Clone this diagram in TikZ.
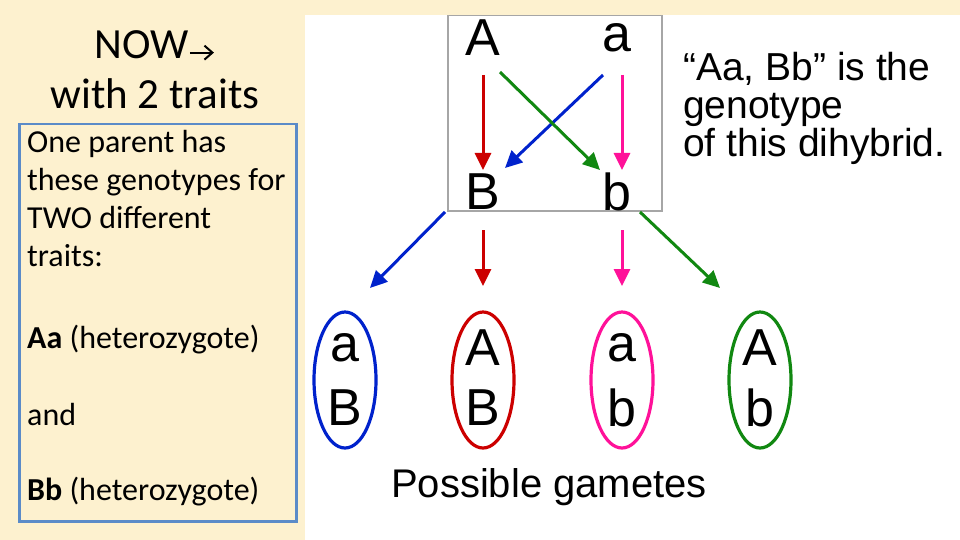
\documentclass[tikz,border=0pt]{standalone}
\usepackage{fontspec}
\setmainfont{Liberation Sans}
\newfontfamily\calfont{Carlito}
\usetikzlibrary{arrows.meta,shapes.geometric}
\definecolor{cream}{HTML}{FDF1CF}
\definecolor{myred}{HTML}{CC0000}
\definecolor{mymag}{HTML}{FF1199}
\definecolor{myblue}{HTML}{0022CC}
\definecolor{mygreen}{HTML}{118811}
\definecolor{boxblue}{HTML}{5B8BC8}
\begin{document}
\begin{tikzpicture}[x=1pt,y=-1pt,
  arr/.style={line width=3pt,-{Triangle[length=17pt,width=16pt]}},
  let/.style={font=\fontsize{52}{52}\selectfont,inner sep=0pt},
  gam/.style={draw,ellipse,line width=3.2pt,minimum width=62pt,minimum height=136pt,inner sep=0pt}]
\useasboundingbox (0,0) rectangle (960,540);
\fill[cream] (0,0) rectangle (960,540);
\fill[white] (305,15) rectangle (960,540);
\node[font=\calfont\fontsize{43}{50}\selectfont,align=center] (title) at (155,70) {NOW\tikz[baseline=-0.3ex]\draw[line width=2pt,-{Straight Barb[length=8pt,width=14pt]}] (0,0) -- (24pt,0);\\with 2 traits};
\node[draw=boxblue,line width=2.5pt,minimum width=277pt,minimum height=397pt,anchor=north west] (lbox) at (18,123) {};
\node[font=\calfont\fontsize{32}{38}\selectfont,align=left,anchor=north west,inner sep=0pt] (t1) at (27,130) {One parent has\\these genotypes for\\TWO different\\traits:};
\node[font=\calfont\fontsize{32}{36}\selectfont,anchor=west,inner sep=0pt] (t2) at (27,340) {\textbf{Aa} (heterozygote)};
\node[font=\calfont\fontsize{32}{36}\selectfont,anchor=west,inner sep=0pt] (t3) at (27,415) {and};
\node[font=\calfont\fontsize{32}{36}\selectfont,anchor=west,inner sep=0pt] (t4) at (27,492) {\textbf{Bb} (heterozygote)};
\node[draw=gray!70,line width=1.5pt,minimum width=214pt,minimum height=195pt,anchor=north west] (gbox) at (447,15) {};
\node[let] (A) at (483,38) {A};
\node[let] (a) at (617,38) {a};
\node[let] (B) at (483,192) {B};
\node[let] (b) at (617,192) {b};
\coordinate (A1) at (483,75); \coordinate (B1) at (483,170);
\coordinate (a1) at (622,75); \coordinate (b1) at (622,170);
\coordinate (a2) at (603,75); \coordinate (B2) at (505,168);
\coordinate (A2) at (500,72); \coordinate (b2) at (600,170);
\draw[arr,myred] (A1) -- (B1);
\draw[arr,mymag] (a1) -- (b1);
\draw[arr,myblue] (a2) -- (B2);
\draw[arr,mygreen] (A2) -- (b2);
\node[font=\fontsize{39}{38}\selectfont,align=left,anchor=north west,inner sep=0pt] (q) at (683,52) {“Aa, Bb” is the\\genotype\\of this dihybrid.};
\node[gam,myblue] (g1) at (345,380) {};
\node[gam,myred] (g2) at (483,380) {};
\node[gam,mymag] (g3) at (622,380) {};
\node[gam,mygreen] (g4) at (760,380) {};
\coordinate (s1) at (445,212); \coordinate (e1) at (370,288);
\coordinate (s2) at (483,230); \coordinate (e2) at (483,286);
\coordinate (s3) at (622,230); \coordinate (e3) at (622,286);
\coordinate (s4) at (640,212); \coordinate (e4) at (720,288);
\draw[arr,myblue] (s1) -- (e1);
\draw[arr,myred] (s2) -- (e2);
\draw[arr,mymag] (s3) -- (e3);
\draw[arr,mygreen] (s4) -- (e4);
\foreach \x/\t/\bt [count=\i] in {345/a/B,483/A/B,622/a/b,760/A/b}{
  \node[let] (u\i) at (\x,348) {\t};
  \node[let] (d\i) at (\x,408) {\bt};
}
\node[font=\fontsize{40}{40}\selectfont,inner sep=0pt] (pg) at (549,487) {Possible gametes};
\end{tikzpicture}
\end{document}
